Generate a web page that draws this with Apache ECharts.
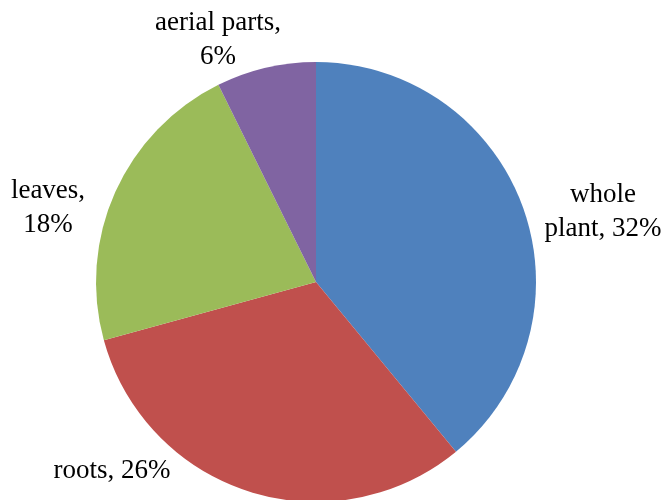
<!DOCTYPE html>
<html>
<head>
<meta charset="utf-8">
<script src="https://cdn.jsdelivr.net/npm/echarts@6/dist/echarts.min.js"></script>
<style>
  html, body { margin: 0; padding: 0; background: #fff; }
  #main { width: 667px; height: 500px; }
</style>
</head>
<body>
<div id="main"></div>
<script>
// plant part used, share of reports (%)
const parts = ['whole plant', 'roots', 'leaves', 'aerial parts'];
const shares = [32, 26, 18, 6];
const colors = ['#4F81BD', '#C0504D', '#9BBB59', '#8064A2'];

// how each label wraps onto lines, as in the original
const labelText = {
  'whole plant': 'whole\nplant, {v}%',
  'roots': 'roots, {v}%',
  'leaves': 'leaves,\n{v}%',
  'aerial parts': 'aerial parts,\n{v}%'
};

// label placement ("best fit" style, outside the pie, no leader lines)
const labelSpot = [
  [603, 212],
  [112, 471],
  [48, 208],
  [218, 40]
];

const chart = echarts.init(document.getElementById('main'));

const option = {
  animation: false,
  color: colors,
  series: [
    {
      type: 'pie',
      center: [316, 282],
      radius: 220,
      startAngle: 90,
      clockwise: true,
      avoidLabelOverlap: false,
      itemStyle: { borderWidth: 0 },
      label: {
        show: true,
        position: 'outside',
        fontFamily: 'Liberation Serif',
        fontSize: 27,
        lineHeight: 34,
        color: '#000',
        formatter: p => labelText[p.name].replace('{v}', p.value)
      },
      labelLine: { show: false },
      labelLayout: p => ({
        x: labelSpot[p.dataIndex][0],
        y: labelSpot[p.dataIndex][1],
        align: 'center',
        verticalAlign: 'middle'
      }),
      data: parts.map((name, i) => ({ name: name, value: shares[i] }))
    }
  ]
};

chart.setOption(option);
</script>
</body>
</html>
